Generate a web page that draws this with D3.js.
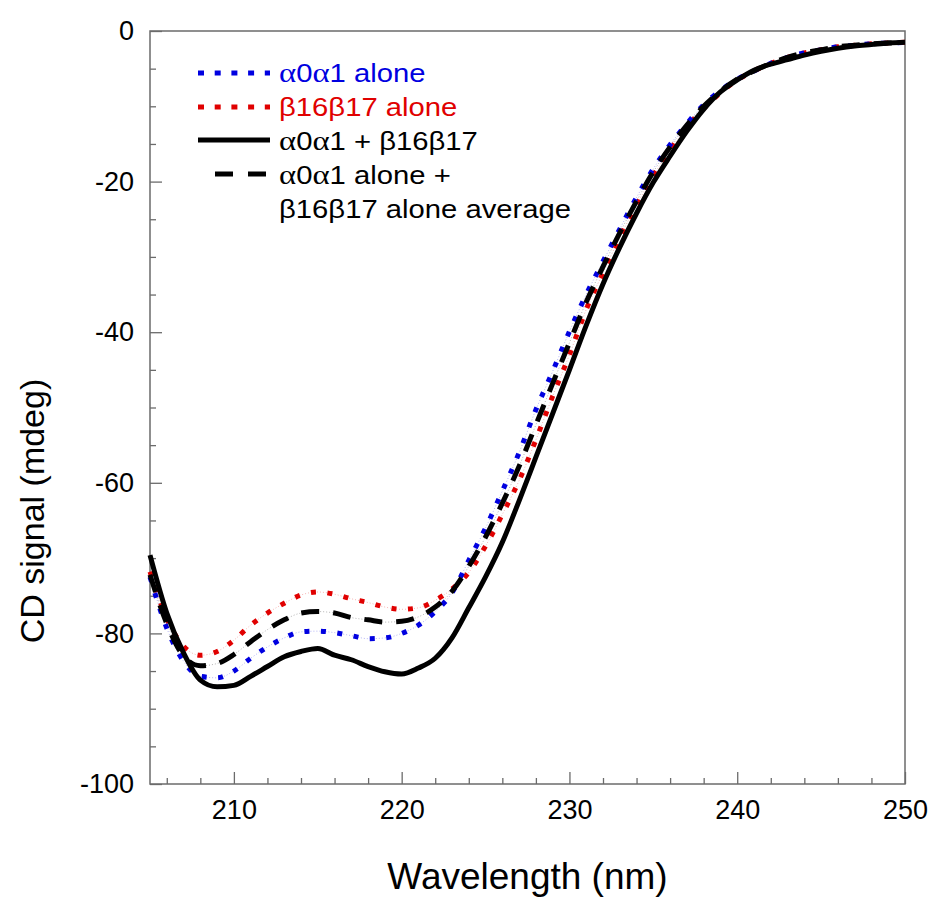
<!DOCTYPE html>
<html><head><meta charset="utf-8">
<script src="https://cdnjs.cloudflare.com/ajax/libs/d3/7.8.5/d3.min.js"></script>
<style>body{margin:0;background:#fff}svg{display:block}</style>
</head><body>
<svg id="chart" width="932" height="900"></svg>
<script>
const wavelengths = [205,206,207,208,209,210,211,212,213,214,215,216,217,218,219,220,221,222,223,224,225,226,227,228,229,230,231,232,233,234,235,236,237,238,239,240,241,242,243,244,245,246,247,248,249,250];
const alphaAlone = [-72.5,-79.3,-83.7,-85.7,-85.9,-85.0,-83.3,-81.8,-80.6,-79.8,-79.7,-79.9,-80.3,-80.7,-80.6,-80.0,-78.9,-77.1,-74.6,-70.3,-66.0,-61.1,-56.0,-50.3,-45.2,-39.9,-35.0,-30.6,-26.3,-22.1,-18.3,-15.1,-12.3,-9.8,-7.9,-6.4,-5.3,-4.3,-3.5,-2.9,-2.5,-2.1,-1.9,-1.7,-1.6,-1.5];
const betaAlone = [-71.8,-78.0,-81.7,-82.9,-82.4,-80.9,-78.9,-77.3,-76.0,-74.9,-74.5,-74.8,-75.4,-75.9,-76.5,-76.8,-76.6,-75.6,-74.1,-71.9,-68.4,-64.2,-59.7,-54.3,-48.5,-43.0,-37.0,-32.1,-27.4,-23.1,-19.2,-15.8,-12.8,-10.3,-8.2,-6.5,-5.3,-4.3,-3.5,-2.9,-2.5,-2.1,-1.9,-1.7,-1.6,-1.5];
const combined = [-69.6,-77.3,-82.6,-86.2,-87.1,-86.9,-85.7,-84.4,-83.1,-82.4,-82.0,-82.9,-83.5,-84.4,-85.1,-85.4,-84.6,-83.3,-80.6,-76.6,-72.5,-67.9,-62.4,-56.6,-50.8,-45.0,-39.1,-33.6,-28.7,-24.2,-20.1,-16.6,-13.3,-10.4,-8.1,-6.5,-5.2,-4.4,-3.8,-3.2,-2.7,-2.3,-2.0,-1.8,-1.6,-1.5];
const averaged = [-72.2,-78.7,-83.0,-84.3,-84.0,-82.8,-81.1,-79.5,-78.2,-77.3,-77.1,-77.3,-77.9,-78.2,-78.5,-78.4,-77.8,-76.5,-74.4,-71.1,-67.2,-62.7,-57.8,-52.3,-46.8,-41.4,-36.0,-31.3,-26.8,-22.6,-18.7,-15.4,-12.5,-10.0,-8.0,-6.4,-5.3,-4.3,-3.5,-2.9,-2.5,-2.1,-1.9,-1.7,-1.6,-1.5];
const xMajorTicks = [210,220,230,240,250];
const xMinorTicks = [206,208,212,214,216,218,222,224,226,228,232,234,236,238,242,244,246,248];
const yMajorTicks = [0,-20,-40,-60,-80,-100];
const yMinorTicks = [-5,-10,-15,-25,-30,-35,-45,-50,-55,-65,-70,-75,-85,-90,-95];
const seriesNames = ["α0α1 alone","β16β17 alone","α0α1 + β16β17","α0α1 alone +"];
const legendExtraLine = "β16β17 alone average";

const svg = d3.select("#chart");
const M = {left:150, right:905, top:31, bottom:784};
const x = d3.scaleLinear().domain([205,250]).range([M.left, M.right]);
const y = d3.scaleLinear().domain([-100,0]).range([M.bottom, M.top]);
const axisColor = "#6b6b6b";
const font = "Liberation Sans, Arial, sans-serif";

// frame
svg.append("rect").attr("x",M.left).attr("y",M.top).attr("width",M.right-M.left).attr("height",M.bottom-M.top)
  .attr("fill","none").attr("stroke",axisColor).attr("stroke-width",1.5);

function styleAxis(g){
  g.select(".domain").remove();
  g.selectAll(".tick line").attr("stroke",axisColor).attr("stroke-width",1.3);
  g.selectAll(".tick text").attr("fill","#000").style("font-family",font).style("font-size","27px");
}
const fmt = d => String(d); // hyphen-minus like the reference
// y axis
svg.append("g").attr("transform",`translate(${M.left},0)`)
  .call(d3.axisLeft(y).tickValues(yMajorTicks).tickSizeInner(-12).tickSizeOuter(0).tickPadding(16).tickFormat(fmt))
  .call(styleAxis);
svg.append("g").attr("transform",`translate(${M.left},0)`)
  .call(d3.axisLeft(y).tickValues(yMinorTicks).tickSizeInner(-6).tickSizeOuter(0).tickFormat(""))
  .call(styleAxis);
// x axis
svg.append("g").attr("transform",`translate(0,${M.bottom})`)
  .call(d3.axisBottom(x).tickValues(xMajorTicks).tickSizeInner(-12).tickSizeOuter(0).tickPadding(16).tickFormat(d3.format("d")))
  .call(styleAxis);
svg.append("g").attr("transform",`translate(0,${M.bottom})`)
  .call(d3.axisBottom(x).tickValues(xMinorTicks).tickSizeInner(-6).tickSizeOuter(0).tickFormat(""))
  .call(styleAxis);

// titles
svg.append("text").attr("x",(M.left+M.right)/2).attr("y",889).attr("text-anchor","middle")
  .style("font-family",font).style("font-size","37px").text("Wavelength (nm)");
svg.append("text").attr("transform","translate(44,511) rotate(-90)").attr("text-anchor","middle")
  .style("font-family",font).style("font-size","34px").text("CD signal (mdeg)");

// lines
const line = d3.line().x((d,i)=>x(wavelengths[i])).y(d=>y(d)).curve(d3.curveMonotoneX);
const series = [
  {vals:betaAlone, color:"#e00000", dash:"5,11.5", w:5},
  {vals:alphaAlone, color:"#0000e0", dash:"5,11.5", w:5},
  {vals:averaged, color:"#000", dash:"18,14", w:5},
  {vals:combined, color:"#000", dash:null, w:5}
];
series.forEach(s=>{
  if(s.dash) svg.append("path").attr("d",line(s.vals)).attr("fill","none").attr("stroke",s.color).attr("stroke-width",0.6).attr("stroke-opacity",0.5).attr("stroke-dasharray","1,2");
  svg.append("path").attr("d",line(s.vals)).attr("fill","none").attr("stroke",s.color)
    .attr("stroke-width",s.w).attr("stroke-dasharray",s.dash).attr("stroke-linejoin","round");
});

// legend
const legend = [
  {label:seriesNames[0], color:"#0000e0", textColor:"#0000e0", dash:"6,10.7", x1:198, ly:73, ty:82},
  {label:seriesNames[1], color:"#e00000", textColor:"#e00000", dash:"6,10.7", x1:198, ly:107, ty:116},
  {label:seriesNames[2], color:"#000", textColor:"#000", dash:null, x1:198, ly:140, ty:150},
  {label:seriesNames[3], color:"#000", textColor:"#000", dash:"18,15", x1:215, ly:174, ty:184}
];
function addLabel(t, str){
  for(const ch of str){
    const isGreek = ch==="α";
    t.append("tspan").style("font-family", isGreek ? "Liberation Serif, serif" : font)
      .style("font-size", isGreek ? "28px" : null).text(ch);
  }
}
legend.forEach(l=>{
  svg.append("line").attr("x1",l.x1).attr("x2",270).attr("y1",l.ly).attr("y2",l.ly)
    .attr("stroke",l.color).attr("stroke-width",5).attr("stroke-dasharray",l.dash);
  const t = svg.append("text").attr("transform",`translate(279,${l.ty}) scale(1.17,1)`).attr("fill",l.textColor)
    .style("font-family",font).style("font-size","25px");
  addLabel(t, l.label);
});
const t5 = svg.append("text").attr("transform","translate(279,218) scale(1.17,1)").attr("fill","#000").style("font-family",font).style("font-size","25px");
addLabel(t5, legendExtraLine);
</script>
</body></html>
